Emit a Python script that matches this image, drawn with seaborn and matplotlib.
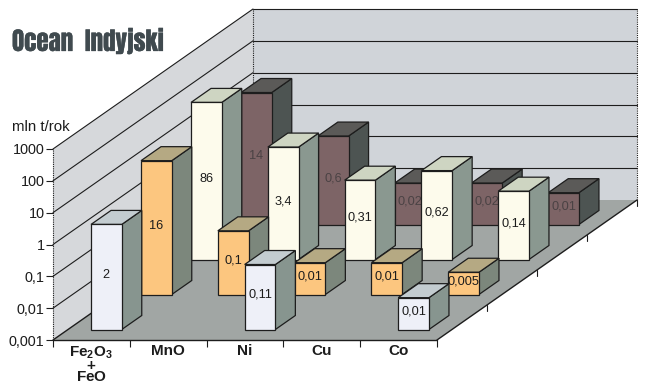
import numpy as np
import pandas as pd
import matplotlib
matplotlib.use("Agg")
import matplotlib.pyplot as plt
from matplotlib.patches import Polygon
from matplotlib.transforms import IdentityTransform
from matplotlib.ticker import FixedLocator, FixedFormatter
import matplotlib.patheffects as pe
import seaborn as sns

# Annual tonnage per mineral group and resource class, mln t/yr (nan: no bar)
categories = ["Fe2O3+FeO", "MnO", "Ni", "Cu", "Co"]
category_labels = [r"$\mathbf{Fe_2O_3}$" + "\n" + r"$\mathbf{+}$" + "\n" + r"$\mathbf{FeO}$",
                   "MnO", "Ni", "Cu", "Co"]
row_front = [2, np.nan, 0.11, np.nan, 0.01]
row_second = [16, 0.1, 0.01, 0.01, 0.005]
row_third = [86, 3.4, 0.31, 0.62, 0.14]
row_back = [14, 0.6, 0.02, 0.02, 0.01]
value_ticks = [0.001, 0.01, 0.1, 1, 10, 100, 1000]
value_tick_labels = ["0,001", "0,01", "0,1", "1", "10", "100", "1000"]

face_colors = ["#eef0f8", "#fcc67f", "#fdfbec", "#7d6466"]
side_colors = ["#87958f", "#7c877c", "#8a9890", "#4d5452"]
top_colors = ["#c3ccd0", "#b5a983", "#ced5c2", "#5b5a58"]
text_colors = ["#1c1c1c", "#1c1c1c", "#1c1c1c", "#4a4244"]

W, H = 651, 384
X0, Y0 = 53, 340          # front-left floor corner, image pixels
PLOT_W, PLOT_H = 384, 191
DEPTH_X, DEPTH_Y = 200, 140  # pixel shift across the full depth of the floor
ROW_STEP = 0.25
BAR_DEPTH = 0.10
BAR_WIDTH = 0.40
WALL = "#d0d4d9"
SIDE_WALL = "#d6d8db"
FLOOR = "#a1a6a4"
LINE = "#1d1d1d"

sns.set_theme(style="white", rc={"font.family": ["Liberation Sans", "DejaVu Sans"],
                                 "mathtext.fontset": "custom",
                                 "mathtext.bf": "Liberation Sans:bold",
                                 "mathtext.rm": "Liberation Sans"})
fig = plt.figure(figsize=(W / 100, H / 100), dpi=100, facecolor="white")


def plane_rect(depth):
    return [(X0 + depth * DEPTH_X) / W, (H - Y0 + depth * DEPTH_Y) / H, PLOT_W / W, PLOT_H / H]


base = fig.add_axes(plane_rect(0), zorder=0)
base.patch.set_visible(False)
base.set_yscale("log")
base.set_ylim(value_ticks[0], value_ticks[-1])
base.set_xlim(-0.5, len(categories) - 0.5)


def project(ax, x, v, depth=0.0):
    """Pixel position of a data point, pushed back by a fraction of the floor depth."""
    px, py = ax.transData.transform((x, v))
    return (px + depth * DEPTH_X, py + depth * DEPTH_Y)


def face(ax, pts, fc, ec=LINE, lw=0.9, z=2):
    ax.add_patch(Polygon(pts, closed=True, facecolor=fc, edgecolor=ec, linewidth=lw,
                         transform=IdentityTransform(), clip_on=False, zorder=z))


def segment(ax, a, b, **kw):
    ax.plot([a[0], b[0]], [a[1], b[1]], transform=IdentityTransform(), clip_on=False,
            color=LINE, **kw)


xa, xb = base.get_xlim()
vmin, vmax = base.get_ylim()

# Walls and floor of the box
face(base, [project(base, xa, vmin, 1), project(base, xb, vmin, 1),
            project(base, xb, vmax, 1), project(base, xa, vmax, 1)], WALL, ec="none", z=0)
face(base, [project(base, xa, vmin), project(base, xa, vmin, 1),
            project(base, xa, vmax, 1), project(base, xa, vmax)], SIDE_WALL, ec="none", z=0)
face(base, [project(base, xa, vmin), project(base, xb, vmin),
            project(base, xb, vmin, 1), project(base, xa, vmin, 1)], FLOOR, ec="none", z=0.5)

# Decade lines on the two walls
for v in value_ticks[1:]:
    segment(base, project(base, xa, v), project(base, xa, v, 1), lw=0.8, zorder=1)
    segment(base, project(base, xa, v, 1), project(base, xb, v, 1), lw=0.8, zorder=1)
segment(base, project(base, xa, vmin), project(base, xa, vmax), lw=0.8, ls=(0, (1, 1)), zorder=1)
segment(base, project(base, xa, vmin, 1), project(base, xa, vmax, 1), lw=0.8, ls=(0, (1, 1)), zorder=1)
segment(base, project(base, xb, vmin, 1), project(base, xb, vmax, 1), lw=0.8, ls=(0, (1, 1)), zorder=1)

# Floor edges with a tick at each depth row
segment(base, project(base, xa, vmin), project(base, xb, vmin), lw=1.0, zorder=1)
segment(base, project(base, xb, vmin), project(base, xb, vmin, 1), lw=1.0, zorder=1)
segment(base, project(base, xa, vmin), project(base, xa, vmin, 1), lw=1.0, zorder=1)
for k in range(1, 5):
    p = project(base, xb, vmin, k * ROW_STEP)
    segment(base, p, (p[0], p[1] - 6), lw=0.8, zorder=1)

# Value axis on the front-left edge, category ticks along the front edge
base.yaxis.set_major_locator(FixedLocator(value_ticks))
base.yaxis.set_major_formatter(FixedFormatter(value_tick_labels))
base.yaxis.set_minor_locator(FixedLocator([]))
base.tick_params(axis="y", which="major", left=True, length=5, width=0.8, color=LINE,
                 labelsize=10.4, labelcolor="#1c1c1c", pad=1)
base.set_xticks(np.arange(-0.5, len(categories)))
base.set_xticklabels([])
base.tick_params(axis="x", which="major", bottom=True, length=5, width=0.8, color=LINE)
base.set_xticks(np.arange(len(categories)), minor=True)
base.set_xticklabels(category_labels, minor=True, fontsize=11, fontweight="bold",
                     color="#1c1c1c", linespacing=0.78)
base.tick_params(axis="x", which="minor", bottom=False, length=0, pad=3)
for spine in base.spines.values():
    spine.set_visible(False)

# One transparent log-scaled plane per depth row, drawn back to front
rows = [row_front, row_second, row_third, row_back]
for r in range(3, -1, -1):
    depth = (ROW_STEP - BAR_DEPTH) / 2 + r * ROW_STEP
    ax = fig.add_axes(plane_rect(depth), zorder=10 - r)
    frame = pd.DataFrame({"category": categories, "value": rows[r]})
    sns.barplot(data=frame, x="category", y="value", order=categories, ax=ax, width=BAR_WIDTH,
                color=face_colors[r], saturation=1, errorbar=None, log_scale=True,
                edgecolor=LINE, linewidth=0.9, zorder=3)
    ax.set_ylim(vmin, vmax)
    ax.set_xlim(xa, xb)
    ax.axis("off")
    ax.patch.set_visible(False)
    for bar in ax.patches:
        left, right = bar.get_x(), bar.get_x() + bar.get_width()
        value = rows[r][int(round((left + right) / 2))]
        bar.set_y(vmin)
        bar.set_height(value - vmin)
        bar.set_clip_on(False)
        face(ax, [project(ax, right, vmin), project(ax, right, vmin, BAR_DEPTH),
                  project(ax, right, value, BAR_DEPTH), project(ax, right, value)], side_colors[r], z=2)
        face(ax, [project(ax, left, value), project(ax, right, value),
                  project(ax, right, value, BAR_DEPTH), project(ax, left, value, BAR_DEPTH)], top_colors[r], z=2)
        ax.annotate(str(value).replace(".", ","), xy=((left + right) / 2, np.sqrt(vmin * value)),
                    xytext=(0, 1.5), textcoords="offset points", ha="center", va="center",
                    fontsize=9.2, color=text_colors[r], zorder=5, annotation_clip=False)

# Headings
fig.text(41 / W, 1 - 131 / H, "mln t/rok", fontsize=10.8, color="#1c1c1c", ha="center", va="baseline")
fig.text(12 / W, 1 - 51 / H, "Ocean  Indyjski", fontsize=18, color="#404a4f",
         family=["Anton", "Oswald", "Asap Condensed", "Liberation Sans"], ha="left", va="baseline",
         path_effects=[pe.withStroke(linewidth=0.2, foreground="#404a4f")])

fig.savefig("out.png", dpi=100, facecolor="white")
